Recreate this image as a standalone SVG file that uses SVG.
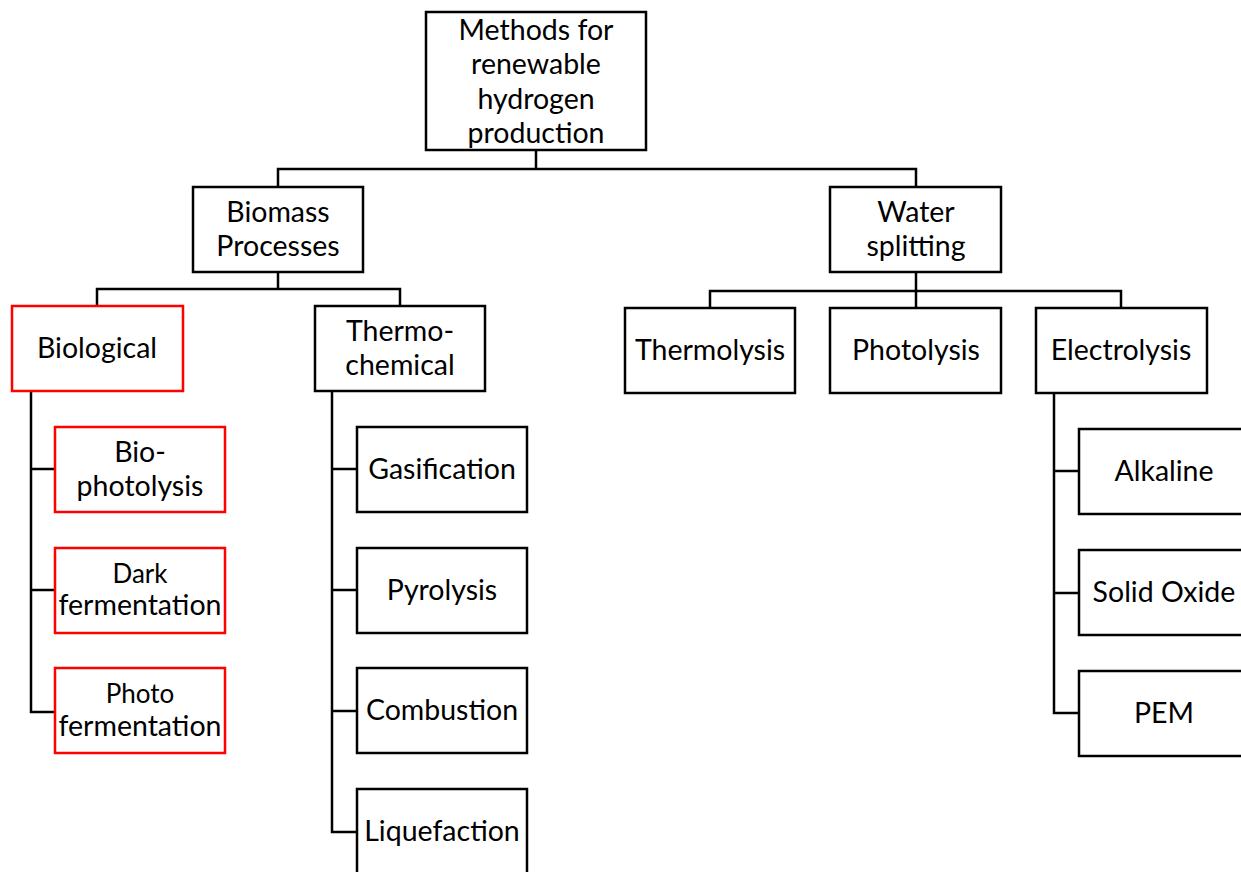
<svg xmlns="http://www.w3.org/2000/svg" width="1241" height="872" viewBox="0 0 1241 872">
<style>
.b{fill:#fff;stroke:#000;stroke-width:2.5}
.r{fill:#fff;stroke:#f00;stroke-width:2.5}
.c{fill:none;stroke:#000;stroke-width:2.5}
text{font-family:Lato,"Liberation Sans",sans-serif;font-size:28.5px;fill:#000;text-anchor:middle}
.s{font-size:26px}
</style>
<rect width="1241" height="872" fill="#fff"/>
<g id="connectors">
<path class="c" d="M536 150V169M278 187V169H916V187"/>
<path class="c" d="M278 272V289M97 306V289H400V306"/>
<path class="c" d="M916 272V291M710 308V291H1121V308M916 291V308"/>
<path class="c" d="M31 391V712H55M31 469H55M31 590H55"/>
<path class="c" d="M332 391V832H357M332 469H357M332 590H357M332 711H357"/>
<path class="c" d="M1054 393V713H1079M1054 471H1079M1054 593H1079"/>
</g>
<g id="root"><rect class="b" x="426" y="12" width="220" height="138"/>
<text x="536" y="40">Methods for</text><text x="536" y="74">renewable</text><text x="536" y="109">hydrogen</text><text x="536" y="143">production</text></g>
<g id="biomass"><rect class="b" x="193" y="187" width="170" height="85"/>
<text x="278" y="222">Biomass</text><text x="278" y="256">Processes</text></g>
<g id="water"><rect class="b" x="830" y="187" width="171" height="85"/>
<text x="916" y="222">Water</text><text x="916" y="256">splitting</text></g>
<g id="biological"><rect class="r" x="12" y="306" width="171" height="85"/>
<text x="97" y="358">Biological</text></g>
<g id="thermochemical"><rect class="b" x="315" y="306" width="170" height="85"/>
<text x="400" y="341">Thermo-</text><text x="400" y="375">chemical</text></g>
<g id="thermolysis"><rect class="b" x="625" y="308" width="170" height="85"/>
<text x="710" y="360">Thermolysis</text></g>
<g id="photolysis"><rect class="b" x="830" y="308" width="171" height="85"/>
<text x="916" y="360">Photolysis</text></g>
<g id="electrolysis"><rect class="b" x="1036" y="308" width="171" height="85"/>
<text x="1121" y="360">Electrolysis</text></g>
<g id="biophotolysis"><rect class="r" x="55" y="427" width="170" height="85"/>
<text x="140" y="462">Bio-</text><text x="140" y="496">photolysis</text></g>
<g id="dark"><rect class="r" x="55" y="548" width="170" height="85"/>
<text class="s" x="140" y="583">Dark</text><text x="140" y="615">fermentation</text></g>
<g id="photo"><rect class="r" x="55" y="668" width="170" height="85"/>
<text class="s" x="140" y="703">Photo</text><text x="140" y="736">fermentation</text></g>
<g id="gasification"><rect class="b" x="357" y="427" width="170" height="85"/>
<text x="442" y="479">Gasification</text></g>
<g id="pyrolysis"><rect class="b" x="357" y="548" width="170" height="85"/>
<text x="442" y="600">Pyrolysis</text></g>
<g id="combustion"><rect class="b" x="357" y="668" width="170" height="85"/>
<text x="442" y="720">Combustion</text></g>
<g id="liquefaction"><rect class="b" x="357" y="789" width="170" height="100"/>
<text x="442" y="841">Liquefaction</text></g>
<g id="alkaline"><rect class="b" x="1079" y="429" width="180" height="85"/>
<text x="1164" y="481">Alkaline</text></g>
<g id="solidoxide"><rect class="b" x="1079" y="550" width="180" height="85"/>
<text x="1164" y="602">Solid Oxide</text></g>
<g id="pem"><rect class="b" x="1079" y="671" width="180" height="85"/>
<text x="1164" y="723">PEM</text></g>
</svg>
